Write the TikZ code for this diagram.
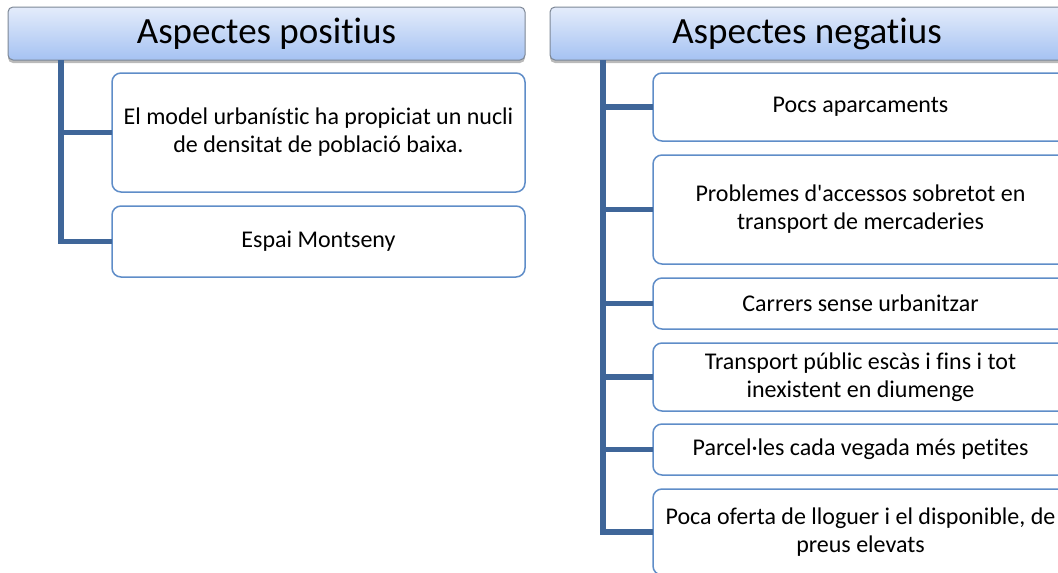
\documentclass[tikz,border=0pt]{standalone}
\usepackage{fontspec}
\setmainfont{Carlito}[Ligatures={TeXOff,CommonOff}]
\usetikzlibrary{positioning,shadows}
\definecolor{treeColor}{RGB}{63,102,153}
\definecolor{itemColor}{RGB}{95,141,200}
\definecolor{headTop}{RGB}{228,236,251}
\definecolor{headBottom}{RGB}{165,194,242}
\definecolor{headBorder}{RGB}{125,135,150}
\tikzstyle{canvas} = [x = 1pt, y = -1pt]
\tikzstyle{headStyle} = [draw=headBorder, top color=headTop, bottom color=headBottom, rounded corners = 5pt, line width=1pt, inner sep=0pt, outer sep=0pt, font=\fontsize{37}{42}\selectfont, drop shadow={shadow xshift=0pt, shadow yshift=-3pt, opacity=.45, fill=black!60}]
\tikzstyle{itemStyle} = [draw=itemColor, fill=white, rounded corners = 9pt, line width=1.5pt, inner sep=0pt, outer sep=0pt, align=center, font=\fontsize{24}{28}\selectfont]
\tikzstyle{treeLine} = [color=treeColor, line width=5.5pt]
\newcommand{\headBox}[6]{
  \pgfmathsetmacro{\boxWidth}{#4 - #2}
  \pgfmathsetmacro{\boxHeight}{#5 - #3}
  \node [headStyle, minimum width=\boxWidth, minimum height=\boxHeight] (#1) at ({(#2 + #4) / 2}, {(#3 + #5) / 2}) {#6};
}
\newcommand{\itemBox}[6]{
  \pgfmathsetmacro{\boxWidth}{#4 - #2}
  \pgfmathsetmacro{\boxHeight}{#5 - #3}
  \node [itemStyle, minimum width=\boxWidth, minimum height=\boxHeight] (#1) at ({(#2 + #4) / 2}, {(#3 + #5) / 2}) {#6};
}
\newcommand{\branch}[2]{\draw [treeLine] (#1) |- (#2.west);}

\begin{document}
\begin{tikzpicture}[canvas]
  \useasboundingbox (0,0) rectangle (1058,573);
  \clip (0,0) rectangle (1058,573);

  % positive side
  \headBox{posHead}{8}{7}{525}{60}{Aspectes positius}
  \coordinate (posRoot) at ([xshift=53pt]posHead.south west);
  \itemBox{posModel}{112}{73}{525}{192}{El model urbanístic ha propiciat un nucli\\de densitat de població baixa.}
  \itemBox{posEspai}{112}{206}{525}{277}{Espai Montseny}
  \foreach \itemName in {posModel, posEspai} {
    \branch{posRoot}{\itemName}
  }

  % negative side
  \headBox{negHead}{550}{7}{1064}{60}{Aspectes negatius}
  \coordinate (negRoot) at ([xshift=53pt]negHead.south west);
  \itemBox{negParking}{653}{73}{1068}{141}{Pocs aparcaments}
  \itemBox{negAccess}{653}{155}{1068}{264}{Problemes d'accessos sobretot en\\transport de mercaderies}
  \itemBox{negStreets}{653}{278}{1068}{329}{Carrers sense urbanitzar}
  \itemBox{negTransport}{653}{343}{1068}{411}{Transport públic escàs i fins i tot\\inexistent en diumenge}
  \itemBox{negPlots}{653}{424}{1068}{475}{Parcel·les cada vegada més petites}
  \itemBox{negRent}{653}{489}{1068}{575}{Poca oferta de lloguer i el disponible, de\\preus elevats}
  \foreach \itemName in {negParking, negAccess, negStreets, negTransport, negPlots, negRent} {
    \branch{negRoot}{\itemName}
  }
\end{tikzpicture}
\end{document}
